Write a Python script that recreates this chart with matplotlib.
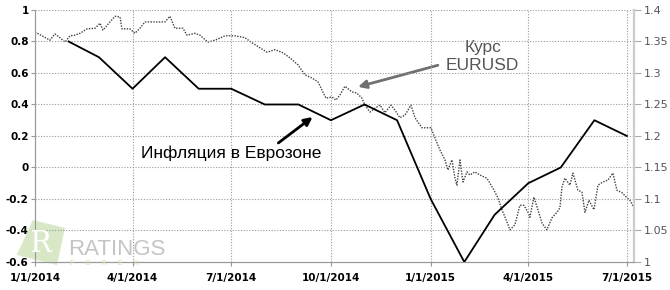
import matplotlib
matplotlib.use("Agg")
import matplotlib.pyplot as plt
import matplotlib.patches as mpatches
import pandas as pd

# inflation (monthly, % y/y), plotted at month starts Feb 2014 .. Jul 2015
infl_months = pd.date_range("2014-02-01", "2015-07-01", freq="MS")
infl_values = [0.8, 0.7, 0.5, 0.7, 0.5, 0.5, 0.4, 0.4, 0.3, 0.4, 0.3,
               -0.2, -0.6, -0.3, -0.1, 0.0, 0.3, 0.2]

# EURUSD (days since 1/1/2014, rate)
eur_days = [0, 6.5, 13.8, 18.4, 23, 27.7, 32.3, 36.9, 41.5, 48, 55.3, 60, 62.7,
            69.2, 73.8, 78.4, 80.2, 87.6, 92.2, 96.8, 101.5, 110.7, 119.9, 124.5,
            129.1, 136.5, 140.2, 147.6, 152.2, 159.5, 166, 175.2, 184.5, 193.7,
            200.1, 207.5, 214, 221.4, 228.7, 235.2, 242.6, 249, 255.5, 261, 264.7,
            268.4, 273.9, 277.6, 281.3, 285.9, 292.4, 297, 301.6, 304.4, 309,
            313.6, 318.2, 322.8, 328.4, 332, 336.6, 341.3, 346.8, 350.5, 353.3,
            357, 365.2, 368.9, 373.5, 378.2, 380.9, 384.6, 387.4, 389.2, 392,
            394.8, 398.5, 401.2, 405.8, 410.4, 416.9, 422.4, 427, 430.7, 435.3,
            438.1, 442.7, 447.3, 451, 454.7, 456.5, 460.2, 463.9, 467.6, 472.2,
            476.8, 481.5, 484.2, 486.1, 488.8, 493.4, 496.2, 500.8, 504.5, 507.3,
            511, 515.6, 519.3, 523.9, 528.5, 533.1, 536.8, 541.4, 546, 548.8, 551.6]
eur_values = [1.365, 1.359, 1.352, 1.362, 1.356, 1.349, 1.359, 1.360, 1.363, 1.370,
              1.371, 1.379, 1.368, 1.381, 1.390, 1.389, 1.370, 1.370, 1.363, 1.371,
              1.381, 1.381, 1.381, 1.390, 1.371, 1.371, 1.360, 1.363, 1.360, 1.349,
              1.352, 1.359, 1.359, 1.356, 1.348, 1.340, 1.333, 1.337, 1.332, 1.324,
              1.313, 1.297, 1.292, 1.286, 1.273, 1.260, 1.262, 1.257, 1.265, 1.279,
              1.270, 1.268, 1.260, 1.249, 1.238, 1.244, 1.249, 1.237, 1.249, 1.241,
              1.229, 1.233, 1.249, 1.229, 1.222, 1.213, 1.213, 1.197, 1.178, 1.162,
              1.146, 1.162, 1.133, 1.122, 1.162, 1.127, 1.143, 1.138, 1.143, 1.138,
              1.133, 1.117, 1.102, 1.083, 1.064, 1.051, 1.059, 1.090, 1.090, 1.079,
              1.071, 1.103, 1.083, 1.062, 1.051, 1.070, 1.079, 1.086, 1.119, 1.133,
              1.122, 1.141, 1.114, 1.111, 1.079, 1.098, 1.083, 1.122, 1.127, 1.130,
              1.141, 1.114, 1.110, 1.102, 1.098, 1.089]

start = pd.Timestamp("2014-01-01")
eur_dates = [start + pd.Timedelta(days=d) for d in eur_days]

x_ticks = pd.to_datetime(["2014-01-01", "2014-04-01", "2014-07-01", "2014-10-01",
                          "2015-01-01", "2015-04-01", "2015-07-01"])
x_labels = ["1/1/2014", "4/1/2014", "7/1/2014", "10/1/2014",
            "1/1/2015", "4/1/2015", "7/1/2015"]
left_ticks = [-0.6, -0.4, -0.2, 0, 0.2, 0.4, 0.6, 0.8, 1.0]
left_labels = ["-0.6", "-0.4", "-0.2", "0", "0.2", "0.4", "0.6", "0.8", "1"]
right_ticks = [1.0, 1.05, 1.1, 1.15, 1.2, 1.25, 1.3, 1.35, 1.4]
right_labels = ["1", "1.05", "1.1", "1.15", "1.2", "1.25", "1.3", "1.35", "1.4"]

fig = plt.figure(figsize=(6.7, 2.9), dpi=100)

# watermark logo (behind the axes)
logo = mpatches.Polygon([(0.049, 0.241), (0.097, 0.214), (0.085, 0.086), (0.025, 0.121)],
                        closed=True, transform=fig.transFigure,
                        facecolor="#cfe3b8", edgecolor="none", alpha=0.8, zorder=0)
fig.patches.append(logo)
fig.text(0.061, 0.158, "R", fontsize=21, color="white", family="DejaVu Serif",
         ha="center", va="center", zorder=1)
fig.text(0.101, 0.14, "RATINGS", fontsize=16, color="#c4c4c4", ha="left",
         va="center", family="Liberation Sans", zorder=1)
fig.text(0.104, 0.093, "F     O     R     E     X", fontsize=5, color="#c8e0b0",
         ha="left", va="center", zorder=1)

ax = fig.add_axes([0.0522, 0.0966, 0.894, 0.869])
ax2 = ax.twinx()
for a in (ax, ax2):
    a.patch.set_visible(False)

grid_kw = dict(color="#9a9a9a", lw=0.8, linestyle=(0, (1, 1.5)))
for t in x_ticks[1:]:
    ax.axvline(t, **grid_kw, zorder=0)
for v in left_ticks[1:]:
    ax.axhline(v, **grid_kw, zorder=0)

ax2.plot(eur_dates, eur_values, color="#404040", lw=1.0,
         linestyle=(0, (1, 1)), zorder=2)
ax.plot(infl_months, infl_values, color="black", lw=1.3, zorder=3)

ax.set_zorder(ax2.get_zorder() + 1)

ax.set_xlim(start, start + pd.Timedelta(days=552.5))
ax.set_ylim(-0.6, 1.0)
ax2.set_ylim(1.0, 1.4)

ax.set_xticks(x_ticks)
ax.set_xticklabels(x_labels, fontsize=7.5, fontweight="bold")
ax.set_yticks(left_ticks)
ax.set_yticklabels(left_labels, fontsize=7.5, fontweight="bold")
ax2.set_yticks(right_ticks)
ax2.set_yticklabels(right_labels, fontsize=8, color="#555555")
ax.tick_params(axis="x", length=3, color="#999999", pad=5)
ax.tick_params(axis="y", length=3, color="#999999", pad=1.5)
ax2.tick_params(axis="y", length=5, color="#aaaaaa", pad=2)

for a in (ax, ax2):
    a.spines["top"].set_visible(False)
    a.spines["left"].set_color("#999999")
    a.spines["bottom"].set_color("#999999")
    a.spines["right"].set_color("#cccccc")
    a.spines["right"].set_linewidth(1.5)

# annotations
ax.annotate("Инфляция в Еврозоне",
            xy=(pd.Timestamp("2014-09-14"), 0.32),
            xytext=(pd.Timestamp("2014-04-09"), 0.089),
            fontsize=12.5, family="Liberation Sans", color="black",
            va="center", ha="left",
            arrowprops=dict(arrowstyle="-|>", color="black", lw=2,
                            mutation_scale=12, shrinkA=0, shrinkB=0,
                            relpos=(0.74, 1.0)))
ax2.annotate("Курс\nEURUSD",
             xy=(pd.Timestamp("2014-10-26"), 1.278),
             xytext=(pd.Timestamp("2015-02-18"), 1.326),
             fontsize=12.5, family="Liberation Sans", color="#555555",
             va="center", ha="center", linespacing=1.2,
             arrowprops=dict(arrowstyle="-|>", color="#707070", lw=2,
                             mutation_scale=12, shrinkA=4, shrinkB=0,
                             relpos=(0.0, 0.3)))

fig.savefig("out.png", dpi=100)
